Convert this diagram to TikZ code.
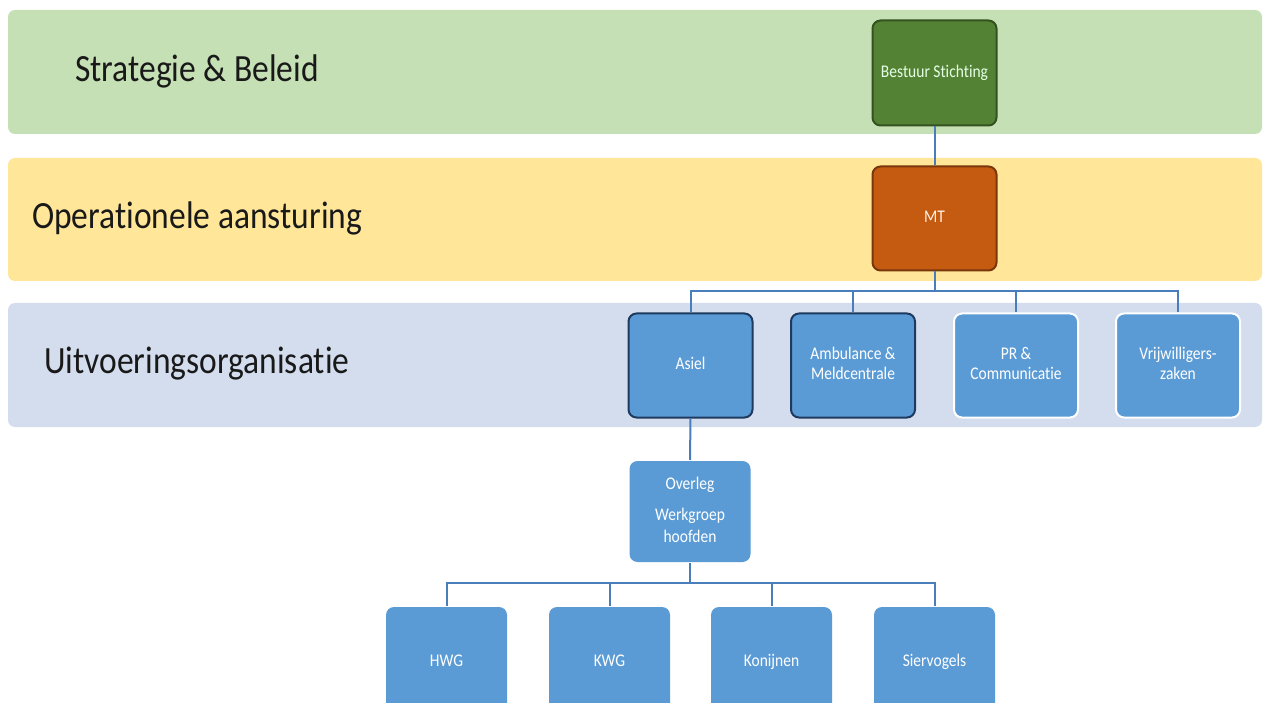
\documentclass[tikz,border=0pt]{standalone}
\usepackage{fontspec}
\setmainfont[Ligatures=NoCommon]{Carlito}
\usepackage{graphicx}
\newcommand\vst[1]{\scalebox{1}[1.15]{\begin{tabular}{@{}c@{}}#1\end{tabular}}}
\definecolor{bandgreen}{HTML}{C5E0B4}
\definecolor{bandyellow}{HTML}{FFE699}
\definecolor{bandblue}{HTML}{D3DDEE}
\definecolor{boxblue}{HTML}{5B9BD5}
\definecolor{boxgreen}{HTML}{548235}
\definecolor{edgegreen}{HTML}{34521F}
\definecolor{boxorange}{HTML}{C55A11}
\definecolor{edgeorange}{HTML}{7A370B}
\definecolor{navy}{HTML}{1F3A5F}
\definecolor{linkblue}{HTML}{4A7EBB}
\tikzset{
  band/.style={rounded corners=7pt, draw=none},
  bandlabel/.style={anchor=west, font=\fontsize{33.5}{40}\selectfont, text=black!90, inner sep=0pt},
  unit/.style={rounded corners=8pt, fill=boxblue, text=white, font=\fontsize{15.5}{18}\selectfont,
     minimum width=124pt, minimum height=104pt, inner sep=2pt, line width=2pt},
  darkunit/.style={unit, draw=navy},
  lightunit/.style={unit, draw=white},
  plainunit/.style={unit, draw=none, minimum width=121pt, minimum height=101pt},
  link/.style={draw=linkblue, line width=2pt}
}
\begin{document}
\begin{tikzpicture}[x=1pt,y=-1pt]
\useasboundingbox (0,0) rectangle (1264,703);
\fill[white] (0,0) rectangle (1264,703);
\begin{scope}
\clip (0,0) rectangle (1264,703);
% bands
\fill[band, bandgreen] (8,10) rectangle (1262,134);
\fill[band, bandyellow] (8,158) rectangle (1262,281);
\fill[band, bandblue] (8,303) rectangle (1262,427);
\node[bandlabel] (l1) at (75,72) {\vst{Strategie \& Beleid}};
\node[bandlabel] (l2) at (32,219) {\vst{Operationele aansturing}};
\node[bandlabel] (l3) at (44,364) {\vst{Uitvoeringsorganisatie}};
% top nodes
\node[unit, fill=boxgreen, draw=edgegreen, text=white!90!green, minimum width=124pt, minimum height=105pt] (bs) at (934.5,73) {\vst{Bestuur Stichting}};
\node[unit, fill=boxorange, draw=edgeorange, text=white!90!orange, minimum width=124pt, minimum height=104pt] (mt) at (934.5,218.5) {\vst{MT}};
% level 3
\node[darkunit] (asiel) at (690.5,365.5) {\vst{Asiel}};
\node[darkunit] (amb) at (853,365.5) {\vst{Ambulance \&\\Meldcentrale}};
\node[lightunit] (pr) at (1016,365.5) {\vst{PR \&\\Communicatie}};
\node[lightunit] (vrij) at (1178,365.5) {\vst{Vrijwilligers-\\zaken}};
% overleg
\node[plainunit, minimum width=121pt, minimum height=101pt] (ov) at (690,511.5) {\vst{Overleg\\[9pt]Werkgroep\\[1pt]hoofden}};
% bottom
\node[plainunit, minimum height=110pt] (hwg) at (446.5,662) {\raisebox{4pt}{\vst{HWG}}};
\node[plainunit, minimum height=110pt] (kwg) at (609.5,662) {\raisebox{4pt}{\vst{KWG}}};
\node[plainunit, minimum height=110pt] (kon) at (771.5,662) {\raisebox{4pt}{\vst{Konijnen}}};
\node[plainunit, minimum height=110pt] (sier) at (934.5,662) {\raisebox{4pt}{\vst{Siervogels}}};
% connectors
\coordinate (bus1) at (934.5,291);
\coordinate (bus2) at (690,583);
\draw[link] (bs.south) -- (mt.north);
\draw[link] (mt.south) -- (bus1) -| (asiel.north);
\draw[link] (bus1) -| (amb.north);
\draw[link] (bus1) -| (pr.north);
\draw[link] (bus1) -| (vrij.north);
\draw[link] (asiel.south) -- (ov.north);
\draw[link] (ov.south) -- (bus2) -| (hwg.north);
\draw[link] (bus2) -| (kwg.north);
\draw[link] (bus2) -| (kon.north);
\draw[link] (bus2) -| (sier.north);
\end{scope}
\end{tikzpicture}
\end{document}
